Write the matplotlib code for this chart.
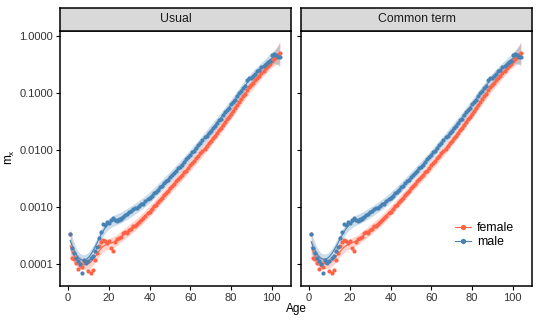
import numpy as np
import matplotlib
matplotlib.use("Agg")
import matplotlib.pyplot as plt
from matplotlib.lines import Line2D

plt.rcParams['font.family'] = ['Liberation Sans', 'DejaVu Sans']
plt.rcParams['mathtext.fontset'] = 'custom'
plt.rcParams['mathtext.rm'] = 'Liberation Sans'

ages = np.arange(1, 105)

# log10 of central death rate
male_log = [
    -3.48, -3.72, -3.80, -3.90, -3.95, -4.00, -4.15, -3.93, -3.98, -3.95,
    -3.90, -3.86, -3.78, -3.70, -3.55, -3.43, -3.30, -3.31, -3.26, -3.28,
    -3.22, -3.20, -3.23, -3.25, -3.22, -3.21, -3.18, -3.14, -3.13, -3.08,
    -3.07, -3.04, -3.02, -3.01, -2.99, -2.95, -2.94, -2.90, -2.86, -2.84,
    -2.81, -2.76, -2.74, -2.70, -2.65, -2.63, -2.58, -2.55, -2.52, -2.47,
    -2.44, -2.41, -2.36, -2.32, -2.29, -2.26, -2.21, -2.16, -2.13, -2.09,
    -2.04, -2.01, -1.96, -1.91, -1.88, -1.83, -1.78, -1.75, -1.71, -1.66,
    -1.61, -1.58, -1.53, -1.48, -1.45, -1.39, -1.34, -1.30, -1.26, -1.20,
    -1.16, -1.12, -1.05, -1.00, -0.97, -0.91, -0.87, -0.78, -0.74, -0.73,
    -0.70, -0.66, -0.62, -0.60, -0.55, -0.52, -0.49, -0.45, -0.43, -0.34,
    -0.31, -0.33, -0.37, -0.36,
]
female_log = [
    -3.48, -3.90, -3.92, -3.98, -4.08, -4.02, -4.06, -3.94, -3.96, -4.12,
    -4.16, -4.10, -3.93, -3.80, -3.68, -3.62, -3.58, -3.60, -3.63, -3.60,
    -3.72, -3.78, -3.62, -3.56, -3.55, -3.52, -3.46, -3.43, -3.45, -3.40,
    -3.38, -3.34, -3.33, -3.29, -3.27, -3.22, -3.19, -3.16, -3.11, -3.08,
    -3.03, -2.99, -2.96, -2.91, -2.87, -2.84, -2.79, -2.75, -2.72, -2.67,
    -2.63, -2.60, -2.55, -2.51, -2.48, -2.43, -2.39, -2.36, -2.31, -2.27,
    -2.23, -2.20, -2.14, -2.11, -2.06, -2.02, -1.98, -1.93, -1.88, -1.85,
    -1.79, -1.75, -1.71, -1.65, -1.61, -1.57, -1.51, -1.46, -1.42, -1.36,
    -1.31, -1.27, -1.21, -1.16, -1.11, -1.05, -1.01, -0.95, -0.90, -0.86,
    -0.82, -0.78, -0.73, -0.70, -0.65, -0.61, -0.57, -0.53, -0.49, -0.44,
    -0.40, -0.36, -0.33, -0.30,
]

panels = ["Usual", "Common term"]
bandwidths = [3.2, 3.6]
sexes = ["female", "male"]
colors = {"female": "#FF6347", "male": "#4682B4"}
data = {"female": np.array(female_log), "male": np.array(male_log)}


def local_linear(x, y, grid, h):
    fit = np.empty(len(grid))
    spread = np.empty(len(grid))
    for i, g in enumerate(grid):
        w = np.exp(-0.5 * ((x - g) / h) ** 2)
        X = np.column_stack([np.ones_like(x), x - g])
        W = X.T * w
        L = np.linalg.solve(W @ X, W)[0]
        fit[i] = L @ y
        spread[i] = np.sqrt(np.sum(L ** 2))
    return fit, spread


fig = plt.figure(figsize=(5.4, 3.24), dpi=100)
W, H = 540, 324
lefts = [60, 301]
pw = 231
top, bottom = 30.7, 286
grid = np.linspace(1, 104, 300)

for k, name in enumerate(panels):
    ax = fig.add_axes([lefts[k] / W, 1 - bottom / H, pw / W, (bottom - top) / H])
    for sex in sexes:
        y = data[sex]
        fit, spread = local_linear(ages.astype(float), y, grid, bandwidths[k])
        hw = 0.32 * spread
        ax.fill_between(grid, 10 ** (fit - hw), 10 ** (fit + hw), color=colors[sex],
                        alpha=0.28, linewidth=0)
        ax.plot(grid, 10 ** fit, color=colors[sex], linewidth=0.8)
        ax.scatter(ages, 10 ** y, s=9, color=colors[sex], linewidths=0, zorder=3)
    ax.set_yscale('log')
    ax.set_xlim(-4.0, 109.5)
    ax.set_ylim(10 ** -4.386, 10 ** 0.093)
    ax.set_xticks([0, 20, 40, 60, 80, 100])
    ax.set_yticks([0.0001, 0.001, 0.01, 0.1, 1.0])
    ax.minorticks_off()
    if k == 0:
        ax.set_yticklabels(["0.0001", "0.0010", "0.0100", "0.1000", "1.0000"])
    else:
        ax.set_yticklabels([])
        ax.tick_params(axis='y', length=0)
    ax.tick_params(labelsize=8, labelcolor='#333333', length=3, width=0.8, pad=2)
    for sp in ax.spines.values():
        sp.set_linewidth(1.1)

    sax = fig.add_axes([lefts[k] / W, 1 - top / H, pw / W, 22.7 / H])
    sax.set_facecolor('#D9D9D9')
    sax.set_xticks([])
    sax.set_yticks([])
    for sp in sax.spines.values():
        sp.set_linewidth(1.1)
    sax.text(0.5, 0.5, name, ha='center', va='center', fontsize=8.8, color='#1A1A1A')

    if k == 1:
        handles = [Line2D([0], [0], color=colors[s], marker='o', markersize=2.8,
                          linewidth=0.8) for s in sexes]
        ax.legend(handles, sexes, loc='center left', bbox_to_anchor=(0.62, 0.2),
                  frameon=False, fontsize=8.8, handlelength=1.3, handletextpad=0.5,
                  labelspacing=0.15)

fig.text(10 / W, 1 - 157 / H, r'$\mathrm{m}_\mathrm{x}$', rotation=90, ha='center',
         va='center', fontsize=8.5)
fig.text(296 / W, 1 - 309 / H, 'Age', ha='center', va='center', fontsize=8.5)

fig.savefig('out.png', dpi=100)
